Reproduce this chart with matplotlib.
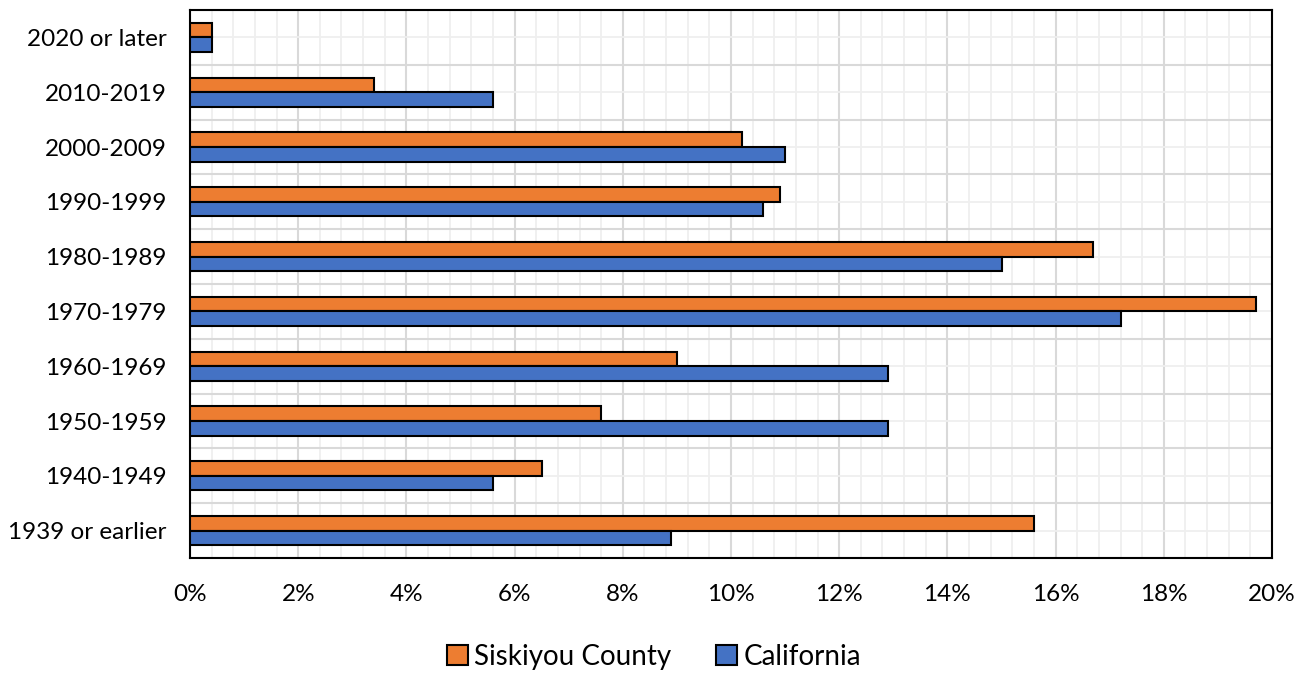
import matplotlib.pyplot as plt
from matplotlib.ticker import MultipleLocator, FuncFormatter
import numpy as np

plt.rcParams['font.family'] = ['Lato', 'DejaVu Sans']

categories = ['2020 or later', '2010-2019', '2000-2009', '1990-1999', '1980-1989',
              '1970-1979', '1960-1969', '1950-1959', '1940-1949', '1939 or earlier']
siskiyou = [0.4, 3.4, 10.2, 10.9, 16.7, 19.7, 9.0, 7.6, 6.5, 15.6]
california = [0.4, 5.6, 11.0, 10.6, 15.0, 17.2, 12.9, 12.9, 5.6, 8.9]

fig = plt.figure(figsize=(13.08, 6.75), dpi=100)
ax = fig.add_axes([190/1308, 1 - 558/675, (1272 - 190)/1308, (558 - 10)/675])

y = np.arange(len(categories))
h = 0.265
ax.barh(y - h/2, siskiyou, height=h, color='#ED7D31', edgecolor='black',
        linewidth=1.5, label='Siskiyou County', zorder=3)
ax.barh(y + h/2, california, height=h, color='#4472C4', edgecolor='black',
        linewidth=1.5, label='California', zorder=3)

ax.set_xlim(0, 20)
ax.set_ylim(len(categories) - 0.5, -0.5)
ax.set_yticks(y)
ax.set_yticklabels(categories)
ax.xaxis.set_major_locator(MultipleLocator(2))
ax.xaxis.set_minor_locator(MultipleLocator(0.4))
ax.xaxis.set_major_formatter(FuncFormatter(lambda v, p: f'{v:.0f}%'))
ax.set_yticks(np.arange(-0.5, len(categories), 1), minor=True)

# gridlines: category boundaries + centres on y, 2% / 0.4% on x
ax.grid(which='major', axis='x', color='#d9d9d9', linewidth=1.5, zorder=0)
ax.grid(which='minor', axis='x', color='#efefef', linewidth=1.3, zorder=0)
ax.grid(which='minor', axis='y', color='#d9d9d9', linewidth=1.5, zorder=0)
ax.grid(which='major', axis='y', color='#efefef', linewidth=1.3, zorder=0)
ax.set_axisbelow(True)

ax.tick_params(which='both', length=0)
ax.tick_params(axis='y', pad=17, labelsize=17.5)
ax.tick_params(axis='x', pad=19, labelsize=17.5)

for s in ax.spines.values():
    s.set_color('black')
    s.set_linewidth(1.5)

leg = fig.legend(loc='center', bbox_to_anchor=(0.5, 1 - 657/675), ncol=2,
                 frameon=False, fontsize=20, handlelength=0.75, handleheight=0.75,
                 handletextpad=0.25, columnspacing=1.6)

fig.savefig('out.png', dpi=100)
